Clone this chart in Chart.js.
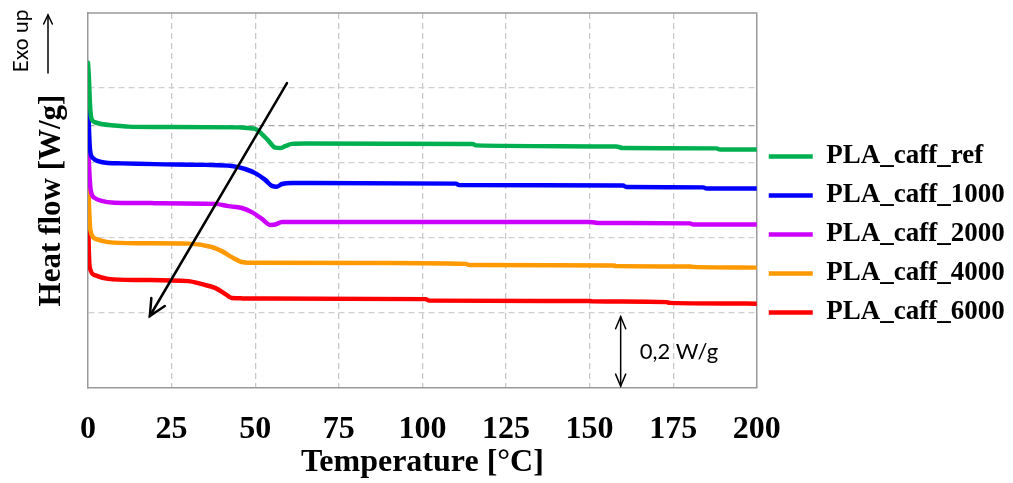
<!DOCTYPE html>
<html>
<head>
<meta charset="utf-8">
<title>DSC - PLA caffeine</title>
<script src="https://cdn.jsdelivr.net/npm/chart.js@4.4.0/dist/chart.umd.min.js"></script>
<style>
  html, body { margin: 0; padding: 0; background: #fff; }
  #wrap { width: 1013px; height: 483px; }
</style>
</head>
<body>
<div id="wrap"><canvas id="dscChart" width="1013" height="483"></canvas></div>
<script>
// values: temperature [°C] and heat flow [W/g]
// (curves are offset vertically, only the differences matter)
const tempRef = [0, 0.3, 0.6, 1, 2, 4, 8, 12, 20, 45, 48, 50, 52, 54, 56, 57.5, 59, 61, 65, 115, 116, 158, 160, 188, 189, 200];
const flowRef = [-0.133, -0.179, -0.245, -0.280, -0.291, -0.296, -0.300, -0.303, -0.304, -0.305, -0.307, -0.309, -0.323, -0.341, -0.359, -0.360, -0.355, -0.349, -0.348, -0.349, -0.353, -0.356, -0.360, -0.361, -0.364, -0.364];

const temp1000 = [0, 0.3, 0.6, 1.5, 3, 6, 10, 20, 35, 43, 47, 50, 53, 55, 56.5, 58, 61, 110, 111, 160, 161, 184, 185, 200];
const flow1000 = [-0.224, -0.312, -0.365, -0.387, -0.395, -0.400, -0.401, -0.403, -0.405, -0.408, -0.416, -0.427, -0.445, -0.461, -0.463, -0.456, -0.453, -0.455, -0.459, -0.460, -0.464, -0.465, -0.468, -0.468];

const temp2000 = [0, 0.3, 0.8, 2, 4, 8, 20, 38, 42, 46, 49, 52, 54.5, 56, 58, 62, 150, 153, 180, 181, 200];
const flow2000 = [-0.331, -0.405, -0.472, -0.493, -0.501, -0.506, -0.507, -0.509, -0.515, -0.520, -0.531, -0.549, -0.565, -0.564, -0.557, -0.557, -0.557, -0.560, -0.561, -0.564, -0.564];

const temp4000 = [0, 0.3, 0.7, 2.5, 6, 15, 30, 37, 40, 43, 46, 48, 100, 113, 114, 157, 158, 180, 181, 200];
const flow4000 = [-0.419, -0.512, -0.579, -0.603, -0.611, -0.614, -0.615, -0.624, -0.635, -0.651, -0.664, -0.666, -0.667, -0.669, -0.672, -0.673, -0.675, -0.676, -0.677, -0.679];

const temp6000 = [0, 0.2, 0.5, 2, 6, 15, 30, 34, 38, 41, 43, 46, 101, 102, 150, 151, 173, 174, 200];
const flow6000 = [-0.517, -0.619, -0.677, -0.699, -0.709, -0.712, -0.715, -0.723, -0.733, -0.749, -0.760, -0.761, -0.763, -0.767, -0.768, -0.769, -0.771, -0.773, -0.775];

const seriesNames = ["PLA_caff_ref", "PLA_caff_1000", "PLA_caff_2000", "PLA_caff_4000", "PLA_caff_6000"];
const seriesColors = ["#00b050", "#0000ff", "#cc00ff", "#ff9900", "#ff0000"];
const seriesTemps = [tempRef, temp1000, temp2000, temp4000, temp6000];
const seriesFlows = [flowRef, flow1000, flow2000, flow4000, flow6000];

// horizontal grid lines that are visible in the picture (W/g)
const gridLevels = [-0.8, -0.6, -0.4, -0.3, -0.2];

const serif = "'Liberation Serif', 'Times New Roman', serif";
const sans = "Lato, 'Liberation Sans', sans-serif";

const datasets = seriesNames.map((name, i) => ({
  label: name,
  data: seriesTemps[i].map((t, j) => ({ x: t, y: seriesFlows[i][j] })),
  borderColor: seriesColors[i],
  backgroundColor: seriesColors[i],
  pointBorderColor: seriesColors[i],
  pointBorderWidth: 4.5,
  borderWidth: 4.5,
  borderCapStyle: "round",
  borderJoinStyle: "round",
  pointRadius: 0,
  cubicInterpolationMode: "monotone",
  fill: false,
}));

function arrowHead(ctx, x1, y1, x2, y2, len, ang) {
  const a = Math.atan2(y2 - y1, x2 - x1);
  ctx.beginPath();
  ctx.moveTo(x2 - len * Math.cos(a - ang), y2 - len * Math.sin(a - ang));
  ctx.lineTo(x2, y2);
  ctx.lineTo(x2 - len * Math.cos(a + ang), y2 - len * Math.sin(a + ang));
  ctx.stroke();
}

// frame, trend arrow, 0,2 W/g scale bar and "Exo up" marker
const extras = {
  id: "extras",
  beforeDatasetsDraw(chart) {
    const { ctx, chartArea: a } = chart;
    ctx.save();
    ctx.strokeStyle = "#999999";
    ctx.lineWidth = 1.5;
    ctx.beginPath();
    ctx.moveTo(a.left, a.top);
    ctx.lineTo(a.right, a.top);
    ctx.lineTo(a.right, a.bottom);
    ctx.stroke();
    ctx.restore();
  },
  afterDatasetsDraw(chart) {
    const { ctx, scales: { x, y } } = chart;
    ctx.save();
    ctx.strokeStyle = "#000";
    ctx.fillStyle = "#000";
    ctx.lineCap = "round";

    // trend arrow (increasing caffeine content)
    ctx.lineWidth = 2.5;
    const ax1 = x.getPixelForValue(59.5), ay1 = y.getPixelForValue(-0.187);
    const ax2 = x.getPixelForValue(18.5), ay2 = y.getPixelForValue(-0.808);
    ctx.beginPath();
    ctx.moveTo(ax1, ay1);
    ctx.lineTo(ax2, ay2);
    ctx.stroke();
    arrowHead(ctx, ax1, ay1, ax2, ay2, 18, 0.45);

    // scale bar
    ctx.lineWidth = 1.5;
    const sx = x.getPixelForValue(159.3);
    const sy1 = y.getPixelForValue(-0.81), sy2 = y.getPixelForValue(-0.995);
    ctx.beginPath();
    ctx.moveTo(sx, sy1);
    ctx.lineTo(sx, sy2);
    ctx.stroke();
    arrowHead(ctx, sx, sy2, sx, sy1, 13, 0.4);
    arrowHead(ctx, sx, sy1, sx, sy2, 13, 0.4);
    ctx.font = "22px " + sans;
    ctx.textAlign = "left";
    ctx.textBaseline = "middle";
    ctx.fillText("0,2 W/g", x.getPixelForValue(165), y.getPixelForValue(-0.904));

    // Exo up
    ctx.save();
    ctx.translate(21, 41);
    ctx.rotate(-Math.PI / 2);
    ctx.font = "21px " + sans;
    ctx.textAlign = "center";
    ctx.fillText("Exo up", 0, 0);
    ctx.restore();
    ctx.beginPath();
    ctx.moveTo(48, 73);
    ctx.lineTo(48, 15);
    ctx.stroke();
    arrowHead(ctx, 48, 73, 48, 15, 10, 0.45);
    ctx.restore();
  },
};

new Chart(document.getElementById("dscChart"), {
  type: "line",
  data: { datasets: datasets },
  plugins: [extras],
  options: {
    responsive: false,
    animation: false,
    events: [],
    layout: { padding: { top: 13, right: 4, left: 0, bottom: 0 } },
    scales: {
      x: {
        type: "linear",
        min: 0,
        max: 200,
        afterFit: (scale) => { scale.height = 95; },
        ticks: {
          stepSize: 25,
          autoSkip: false,
          maxRotation: 0,
          padding: 23,
          color: "#000",
          font: { family: serif, size: 32, weight: "bold" },
        },
        grid: {
          drawTicks: false,
          lineWidth: 1.3,
          color: (c) => (c.tick && c.tick.value > 0 && c.tick.value < 200 ? "#c8c8c8" : "transparent"),
        },
        border: { color: "#999999", width: 1.5, dash: [6, 4] },
        title: {
          display: true,
          text: "Temperature [°C]",
          color: "#000",
          padding: { top: 0, bottom: 1 },
          font: { family: serif, size: 32, weight: "bold" },
        },
      },
      y: {
        min: -1,
        max: 0,
        afterFit: (scale) => { scale.width = 88; },
        ticks: { display: false, stepSize: 0.1 },
        grid: {
          drawTicks: false,
          lineWidth: 1.3,
          color: (c) => {
            if (!c.tick) return "transparent";
            const v = Math.round(c.tick.value * 10) / 10;
            if (v === -0.3) return "#a6a6a6";
            return gridLevels.includes(v) ? "#d0d0d0" : "transparent";
          },
        },
        border: { color: "#999999", width: 1.5, dash: [6, 4] },
        title: {
          display: true,
          text: "Heat flow [W/g]",
          color: "#000",
          padding: { top: 33, bottom: 0 },
          font: { family: serif, size: 31, weight: "bold" },
        },
      },
    },
    plugins: {
      tooltip: { enabled: false },
      legend: {
        position: "right",
        align: "start",
        title: { display: true, text: " ", font: { size: 15 }, padding: { top: 100, bottom: 0 } },
        labels: {
          usePointStyle: true,
          pointStyle: "line",
          pointStyleWidth: 44,
          padding: 12,
          color: "#000",
          font: { family: serif, size: 27, weight: "bold" },
        },
      },
    },
  },
});
</script>
</body>
</html>
